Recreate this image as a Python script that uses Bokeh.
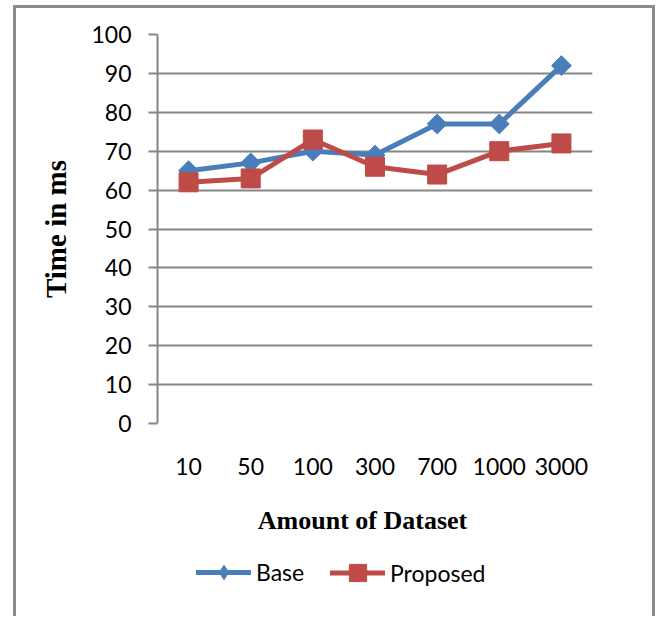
import math
from bokeh.plotting import figure
from bokeh.layouts import column
from bokeh.models import (FactorRange, Range1d, Legend, LegendItem, FixedTicker,
                          ColumnDataSource, CDSView, IndexFilter, Label)
from bokeh.embed import file_html
from bokeh.resources import INLINE

categories = ["10", "50", "100", "300", "700", "1000", "3000"]
base = [65, 67, 70, 69, 77, 77, 92]
proposed = [62, 63, 73, 66, 64, 70, 72]
y_ticks = [0, 10, 20, 30, 40, 50, 60, 70, 80, 90, 100]

BLUE = "#4A7EBB"
RED = "#BE4B48"
GRID = "#868686"
FRAME = "#8C8C8C"
TICK_FONT = "Lato"
TITLE_FONT = "Liberation Serif"

W, H1, H2 = 656, 490, 126

p = figure(width=W, height=H1, x_range=FactorRange(*categories, range_padding=0),
           y_range=Range1d(0, 100), output_backend="svg", toolbar_location=None,
           min_border_left=157, min_border_right=64, min_border_top=34,
           min_border_bottom=H1 - 423)
p.outline_line_color = None
p.background_fill_color = "white"
p.border_fill_alpha = 0

src = ColumnDataSource(dict(cat=categories, base=base, proposed=proposed))

l1 = p.line("cat", "base", source=src, line_color=BLUE, line_width=5,
            line_join="round", line_cap="round")
s1 = p.scatter("cat", "base", source=src, marker="square", angle=math.pi / 4, size=14,
               fill_color=BLUE, line_color=BLUE)
l2 = p.line("cat", "proposed", source=src, line_color=RED, line_width=5,
            line_join="round", line_cap="round")
s2 = p.scatter("cat", "proposed", source=src, marker="square", size=19,
               fill_color=RED, line_color=RED)

# grid
p.xgrid.grid_line_color = None
p.ygrid.grid_line_color = GRID
p.ygrid.grid_line_width = 2
p.ygrid.ticker = FixedTicker(ticks=y_ticks)

# y axis
ya = p.yaxis[0]
ya.ticker = FixedTicker(ticks=y_ticks)
ya.axis_line_color = GRID
ya.axis_line_width = 2
ya.major_tick_line_color = GRID
ya.major_tick_line_width = 2
ya.major_tick_out = 9
ya.major_tick_in = 0
ya.minor_tick_line_color = None
ya.major_label_standoff = 17
ya.major_label_text_font = TICK_FONT
ya.major_label_text_font_size = "23px"
ya.major_label_text_color = "black"
ya.axis_label = "Time in ms"
ya.axis_label_text_font = TITLE_FONT
ya.axis_label_text_font_style = "bold"
ya.axis_label_text_font_size = "29px"
ya.axis_label_text_color = "black"
ya.axis_label_standoff = 16

# x axis (tick labels only; its title lives in the strip below)
xa = p.xaxis[0]
xa.axis_line_color = None
xa.major_tick_line_color = None
xa.minor_tick_line_color = None
xa.major_label_standoff = 28
xa.major_label_text_font = TICK_FONT
xa.major_label_text_font_size = "23px"
xa.major_label_text_color = "black"

# strip below the chart: x-axis title and legend
p2 = figure(width=W, height=H2, x_range=FactorRange(*categories, range_padding=0),
            y_range=Range1d(1000, 1100), output_backend="svg", toolbar_location=None,
            x_axis_location=None, y_axis_location=None,
            min_border_left=157, min_border_right=64, min_border_top=0, min_border_bottom=0)
p2.outline_line_color = None
p2.background_fill_alpha = 0
p2.border_fill_alpha = 0
p2.grid.visible = False

p2.add_layout(Label(x=205, y=96, x_units="screen", y_units="screen",
                    text="Amount of Dataset", text_align="center", text_baseline="middle",
                    text_font=TITLE_FONT, text_font_style="bold", text_font_size="26px",
                    text_color="black"))

# legend keys: renderers whose single point lies outside this strip's y range
one = CDSView(filter=IndexFilter(indices=[0]))
k1l = p2.line("cat", "base", source=src, view=one, line_color=BLUE, line_width=5,
              line_cap="round")
k1m = p2.scatter("cat", "base", source=src, view=one, marker="diamond", size=14,
                 fill_color=BLUE, line_color=BLUE)
k2l = p2.line("cat", "proposed", source=src, view=one, line_color=RED, line_width=5,
              line_cap="round")
k2m = p2.scatter("cat", "proposed", source=src, view=one, marker="square", size=17,
                 fill_color=RED, line_color=RED)

def add_key(label, rends, gh, loc):
    lg = Legend(items=[LegendItem(label=label, renderers=rends)], location=loc,
                orientation="horizontal", glyph_width=55, glyph_height=gh,
                label_standoff=5, padding=0, margin=0, spacing=0,
                border_line_color=None, background_fill_alpha=0,
                label_text_font=TICK_FONT, label_text_font_size="23px",
                label_text_color="black")
    p2.add_layout(lg, "center")

add_key("Base", [k1l, k1m], 36, (39, 26))
add_key("Proposed", [k2l, k2m], 43, (173, 22))

# outer chart border painted as the layout background
g = f"linear-gradient({FRAME},{FRAME})"
layout = column(p, p2, spacing=0, styles={
    "background": (f"{g} 13px 5px / 3px 800px no-repeat, "
                   f"{g} 652px 5px / 3px 800px no-repeat, "
                   f"{g} 13px 5px / 642px 3px no-repeat, white"),
})

open("out.html", "w").write(file_html(layout, INLINE))
